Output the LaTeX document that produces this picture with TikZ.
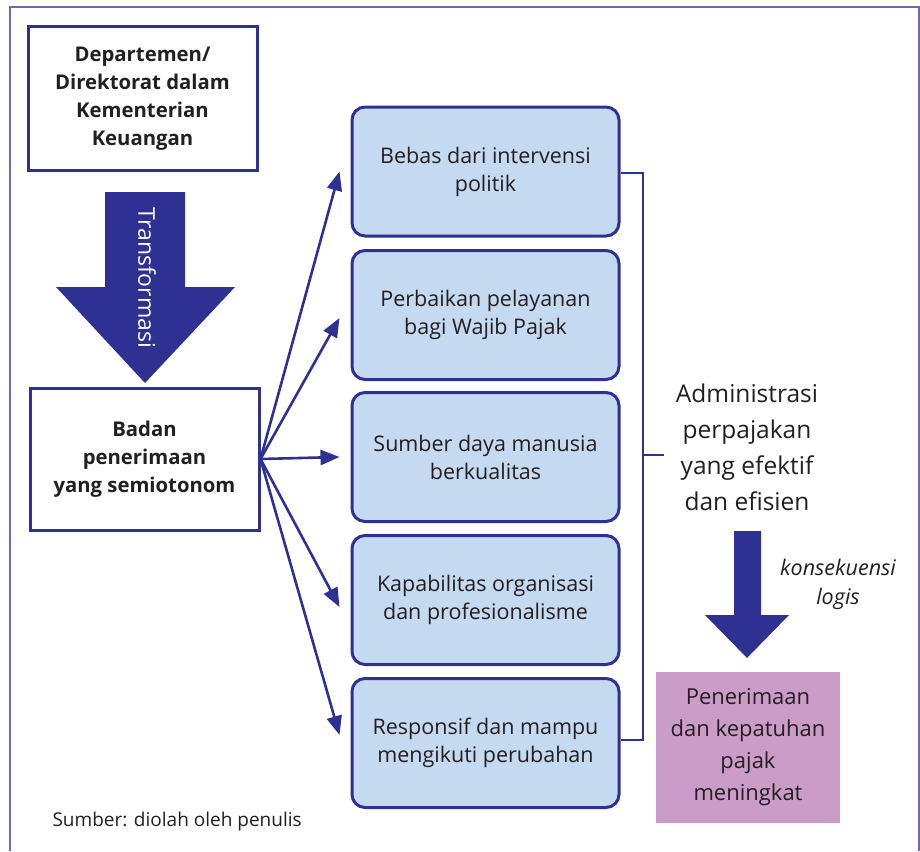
\documentclass[tikz,border=0pt]{standalone}
\usepackage{fontspec}
\setmainfont{Open Sans}
\usetikzlibrary{arrows.meta}

\definecolor{navy}{HTML}{2E3192}
\definecolor{frameblue}{HTML}{6B6BB5}
\definecolor{lightblue}{HTML}{C5D9F0}
\definecolor{pinkbox}{HTML}{CC9CC9}
\definecolor{txt}{HTML}{231F20}

\tikzset{
  whitebox/.style={draw=navy, line width=3pt, fill=white, align=center,
    minimum width=229pt, minimum height=143pt, text=txt,
    font=\fontsize{20.3}{28}\selectfont},
  bluebox/.style={draw=navy, line width=3pt, fill=lightblue, rounded corners=13pt,
    align=center, minimum width=267pt, minimum height=129pt, text=txt,
    font=\fontsize{21.5}{28}\selectfont},
  fan/.style={draw=navy, line width=2.6pt, -{Triangle[length=19pt,width=15pt]}},
  bracket/.style={draw=navy, line width=2.6pt},
}

\begin{document}
\begin{tikzpicture}[x=1pt,y=-1pt]
  \useasboundingbox (0,0) rectangle (920,851);
  \draw[frameblue, line width=2pt] (10,851) -- (10,7) -- (919,7) -- (919,851);

  \node[whitebox] (dep) at (142.5,98.5) {\bfseries Departemen/\\\bfseries Direktorat dalam\\\bfseries Kementerian\\\bfseries Keuangan};
  \node[whitebox, minimum height=142pt] (badan) at (144.5,459) {\bfseries Badan\\\bfseries penerimaan\\\bfseries yang semiotonom};

  % transformasi arrow
  \fill[navy] (105,192) -- (185,192) -- (185,287) -- (235,287) -- (145,383) -- (56,287) -- (105,287) -- cycle;
  \node[text=white, rotate=-90, font=\fontsize{23}{26}\selectfont] (trans) at (147,278) {Transformasi};

  \node[bluebox] (b1) at (485.5,171.5) {Bebas dari intervensi\\politik};
  \node[bluebox] (b2) at (485.5,315) {Perbaikan pelayanan\\bagi Wajib Pajak};
  \node[bluebox] (b3) at (485.5,457) {Sumber daya manusia\\berkualitas};
  \node[bluebox] (b4) at (485.5,600) {Kapabilitas organisasi\\dan profesionalisme};
  \node[bluebox] (b5) at (485.5,743) {Responsif dan mampu\\mengikuti perubahan};

  \draw[fan] (badan.east) -- ([xshift=-11pt]b1.west);
  \draw[fan] (badan.east) -- ([xshift=-11pt,yshift=-3pt]b2.west);
  \draw[fan] (badan.east) -- ([xshift=-11pt]b3.west);
  \draw[fan] (badan.east) -- ([xshift=-11pt,yshift=-7pt]b4.west);
  \draw[fan] (badan.east) -- ([xshift=-11pt,yshift=8pt]b5.west);

  % bracket
  \coordinate (brtop) at (643,173);
  \coordinate (brbot) at (643,740);
  \coordinate (brmid) at (643,455);
  \draw[bracket] ([yshift=-1.5pt]b1.east) -- (brtop) -- (brbot) -- (b5.east |- brbot);
  \draw[bracket] (brmid) -- ++(21,0) coordinate (brend);

  \node[align=center, text=txt, font=\fontsize{24.5}{36}\selectfont] (admin) at (747,447) {Administrasi\\perpajakan\\yang efektif\\dan efisien};

  % konsekuensi arrow
  \fill[navy] (734,531) -- (761,531) -- (761,615) -- (789,615) -- (747,658) -- (705,615) -- (734,615) -- cycle;
  \node[align=center, text=txt, font=\fontsize{21.5}{29}\selectfont\itshape] (kons) at (838,584) {konsekuensi\\logis};

  \node[fill=pinkbox, minimum width=184pt, minimum height=151pt, align=center, text=txt,
    font=\fontsize{22}{32}\selectfont] (pen) at (748,747.5) {Penerimaan\\dan kepatuhan\\pajak\\meningkat};

  \node[anchor=west, text=txt, font=\fontsize{19}{20}\selectfont] (sumber) at (49,822) {Sumber: diolah oleh penulis};
\end{tikzpicture}
\end{document}
